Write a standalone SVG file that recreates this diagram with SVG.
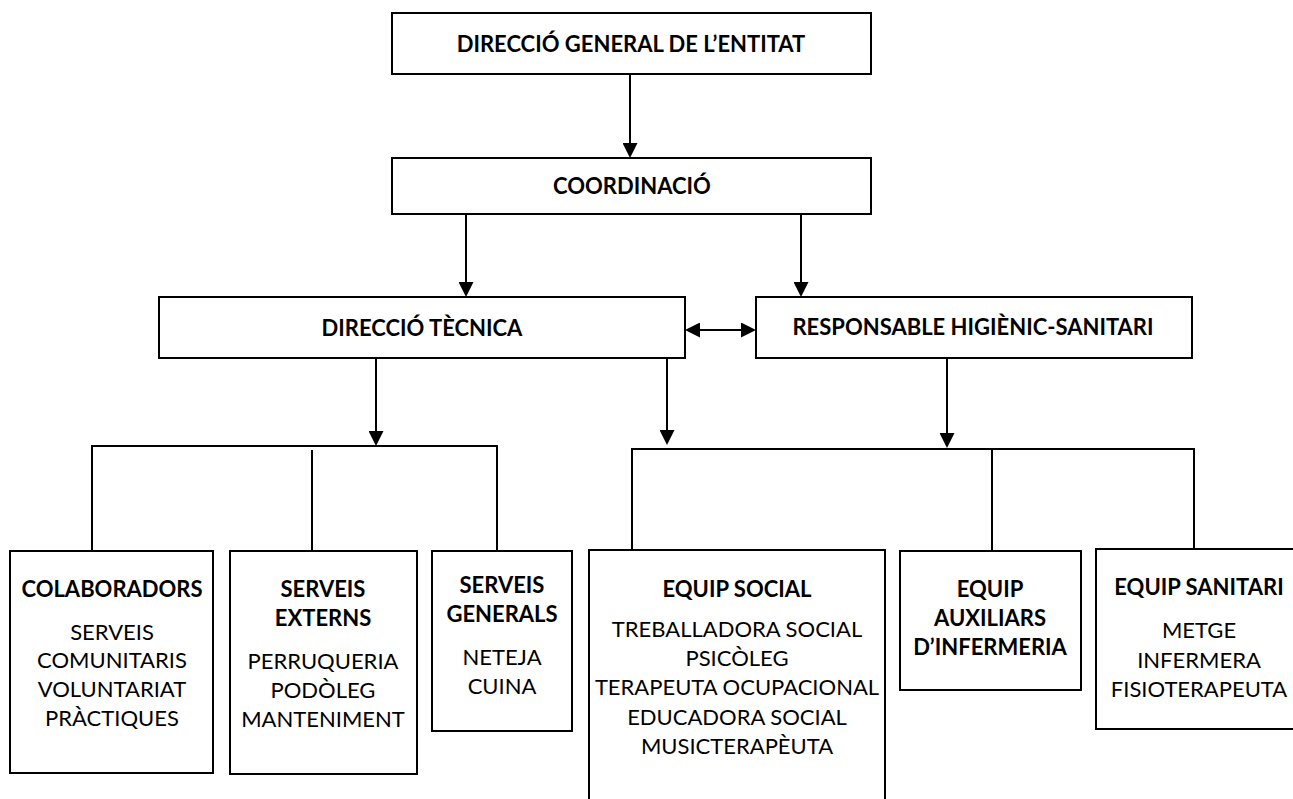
<svg xmlns="http://www.w3.org/2000/svg" width="1293" height="799" viewBox="0 0 1293 799">
<style>
.box{fill:#fff;stroke:#000;stroke-width:2}
.ln{fill:none;stroke:#000;stroke-width:2}
text{font-family:Lato,"Open Sans",sans-serif;font-size:22px;fill:#000;text-anchor:middle}
.b{font-weight:bold}
</style>
<defs>
<marker id="ah" viewBox="0 0 15 15" markerUnits="userSpaceOnUse" markerWidth="15" markerHeight="15" refX="11" refY="7.5" orient="auto-start-reverse">
<path d="M0,0 L15,7.5 L0,15 z" fill="#000"/>
</marker>
</defs>
<rect width="1293" height="799" fill="#fff"/>
<g id="connectors">
<path class="ln" d="M630,74 V154" marker-end="url(#ah)"/>
<path class="ln" d="M466,214 V293" marker-end="url(#ah)"/>
<path class="ln" d="M801,214 V293" marker-end="url(#ah)"/>
<path class="ln" d="M689,330 H752" marker-start="url(#ah)" marker-end="url(#ah)"/>
<path class="ln" d="M376,358 V442" marker-end="url(#ah)"/>
<path class="ln" d="M667,358 V441" marker-end="url(#ah)"/>
<path class="ln" d="M947,358 V444" marker-end="url(#ah)"/>
<path class="ln" d="M92,551 V446 H497 V551"/>
<path class="ln" d="M312,450 V551"/>
<path class="ln" d="M632,550 V449 H1194 V549"/>
<path class="ln" d="M992,449 V551"/>
</g>
<g id="n-direccio-general">
<rect class="box" x="392" y="13" width="479" height="61"/>
<text class="b" x="631" y="52">DIRECCIÓ GENERAL DE L’ENTITAT</text>
</g>
<g id="n-coordinacio">
<rect class="box" x="392" y="158" width="479" height="56"/>
<text class="b" x="632" y="194">COORDINACIÓ</text>
</g>
<g id="n-direccio-tecnica">
<rect class="box" x="159" y="297" width="526" height="61"/>
<text class="b" x="422" y="336">DIRECCIÓ TÈCNICA</text>
</g>
<g id="n-responsable">
<rect class="box" x="756" y="297" width="436" height="61"/>
<text class="b" x="973" y="335">RESPONSABLE HIGIÈNIC-SANITARI</text>
</g>
<g id="n-colaboradors">
<rect class="box" x="10" y="551" width="203" height="222"/>
<text class="b" x="112" y="597">COLABORADORS</text>
<text x="112" y="640">SERVEIS</text>
<text x="112" y="668">COMUNITARIS</text>
<text x="112" y="697">VOLUNTARIAT</text>
<text x="112" y="726">PRÀCTIQUES</text>
</g>
<g id="n-serveis-externs">
<rect class="box" x="230" y="551" width="187" height="223"/>
<text class="b" x="323" y="597">SERVEIS</text>
<text class="b" x="323" y="626">EXTERNS</text>
<text x="323" y="669">PERRUQUERIA</text>
<text x="323" y="698">PODÒLEG</text>
<text x="323" y="727">MANTENIMENT</text>
</g>
<g id="n-serveis-generals">
<rect class="box" x="432" y="551" width="140" height="180"/>
<text class="b" x="502" y="593">SERVEIS</text>
<text class="b" x="502" y="622">GENERALS</text>
<text x="502" y="665">NETEJA</text>
<text x="502" y="694">CUINA</text>
</g>
<g id="n-equip-social">
<rect class="box" x="589" y="550" width="296" height="260"/>
<text class="b" x="737" y="597">EQUIP SOCIAL</text>
<text x="737" y="637">TREBALLADORA SOCIAL</text>
<text x="737" y="666">PSICÒLEG</text>
<text x="737" y="695">TERAPEUTA OCUPACIONAL</text>
<text x="737" y="725">EDUCADORA SOCIAL</text>
<text x="737" y="754">MUSICTERAPÈUTA</text>
</g>
<g id="n-equip-auxiliars">
<rect class="box" x="900" y="551" width="181" height="139"/>
<text class="b" x="990" y="597">EQUIP</text>
<text class="b" x="990" y="626">AUXILIARS</text>
<text class="b" x="990" y="655">D’INFERMERIA</text>
</g>
<g id="n-equip-sanitari">
<rect class="box" x="1096" y="549" width="206" height="180"/>
<text class="b" x="1199" y="595">EQUIP SANITARI</text>
<text x="1199" y="638">METGE</text>
<text x="1199" y="668">INFERMERA</text>
<text x="1199" y="697">FISIOTERAPEUTA</text>
</g>
</svg>
